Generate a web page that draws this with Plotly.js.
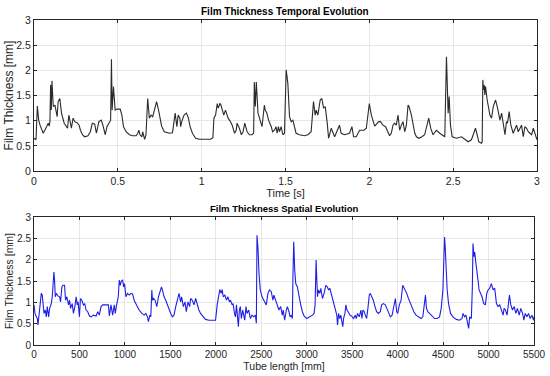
<!DOCTYPE html>
<html><head><meta charset="utf-8">
<script src="https://cdn.plot.ly/plotly-3.0.1.min.js"></script>
<style>html,body{margin:0;padding:0;background:#fff}#chart{width:550px;height:376px}</style>
</head><body><div id="chart"></div>
<script>
// Top panel: time [s] and film thickness [mm]
const timeS = [0.000,0.012,0.020,0.028,0.036,0.045,0.055,0.075,0.085,0.091,0.095,0.099,0.103,0.107,0.115,0.125,0.134,0.138,0.144,0.154,0.164,0.174,0.180,0.194,0.200,0.208,0.217,0.223,0.233,0.243,0.257,0.269,0.277,0.289,0.302,0.322,0.336,0.348,0.362,0.372,0.387,0.401,0.411,0.425,0.435,0.451,0.457,0.462,0.466,0.474,0.484,0.494,0.514,0.524,0.534,0.549,0.569,0.589,0.609,0.619,0.625,0.632,0.644,0.648,0.660,0.668,0.678,0.688,0.698,0.708,0.717,0.731,0.743,0.751,0.761,0.777,0.806,0.826,0.842,0.852,0.860,0.870,0.875,0.881,0.895,0.909,0.921,0.931,0.945,0.964,0.984,1.024,1.053,1.067,1.073,1.083,1.093,1.099,1.109,1.113,1.123,1.132,1.142,1.158,1.172,1.182,1.196,1.206,1.211,1.225,1.237,1.247,1.257,1.271,1.285,1.300,1.310,1.314,1.320,1.326,1.336,1.346,1.360,1.374,1.379,1.389,1.399,1.415,1.423,1.434,1.444,1.450,1.458,1.464,1.474,1.484,1.494,1.504,1.510,1.514,1.524,1.534,1.544,1.554,1.563,1.583,1.613,1.633,1.643,1.653,1.667,1.677,1.683,1.693,1.707,1.717,1.727,1.737,1.749,1.757,1.773,1.783,1.793,1.822,1.832,1.852,1.882,1.896,1.906,1.922,1.942,1.968,1.982,2.000,2.012,2.032,2.056,2.067,2.081,2.097,2.107,2.121,2.131,2.141,2.151,2.161,2.171,2.181,2.191,2.201,2.211,2.221,2.231,2.237,2.251,2.261,2.271,2.281,2.295,2.314,2.330,2.354,2.366,2.380,2.400,2.420,2.440,2.450,2.460,2.466,2.470,2.476,2.484,2.494,2.520,2.550,2.569,2.589,2.609,2.623,2.633,2.643,2.653,2.669,2.673,2.677,2.681,2.685,2.689,2.693,2.703,2.719,2.729,2.739,2.753,2.765,2.779,2.789,2.799,2.809,2.818,2.824,2.834,2.844,2.858,2.868,2.878,2.888,2.908,2.918,2.928,2.938,2.948,2.958,2.968,2.978,2.988,3.000];
const thickTime = [0.65,0.62,1.29,1.01,0.91,0.81,0.75,0.88,0.95,0.89,0.98,1.71,1.21,1.79,1.28,1.31,1.15,1.08,1.38,1.44,1.15,1.01,0.95,0.88,0.85,1.11,0.91,0.85,1.05,0.98,0.96,0.91,0.81,0.72,0.68,0.70,0.78,0.95,0.93,0.75,0.98,1.01,0.91,0.72,0.88,0.98,1.01,2.22,1.21,1.68,1.21,1.23,1.23,1.11,0.88,0.78,0.72,0.70,0.70,0.75,0.81,0.72,0.68,0.78,0.63,0.72,1.44,1.05,1.11,1.08,1.21,1.38,1.21,1.05,0.89,0.78,0.75,0.76,1.15,0.88,1.11,1.05,0.88,0.98,1.11,1.15,1.05,0.88,0.75,0.65,0.63,0.63,0.63,0.66,1.05,1.11,1.34,1.25,1.34,1.33,1.18,1.11,1.21,1.05,0.98,0.91,0.75,0.81,0.95,0.85,0.72,0.78,0.95,0.78,0.72,0.72,0.75,1.77,1.28,1.77,1.15,1.05,0.88,1.31,1.21,1.15,1.01,0.88,0.78,0.81,0.88,0.75,0.88,0.78,0.88,0.72,0.75,2.01,1.84,1.74,1.08,0.98,1.01,0.88,0.75,0.72,0.70,0.72,0.75,0.78,1.38,1.11,1.21,1.11,1.41,1.44,1.25,1.28,0.95,0.65,0.85,0.75,0.68,0.91,0.75,0.72,0.75,0.88,0.68,0.68,0.81,0.81,0.85,1.34,1.11,0.89,0.98,0.98,0.91,0.88,0.81,0.70,0.75,0.91,0.95,0.91,1.11,0.81,0.91,0.98,0.78,0.91,1.31,1.28,1.11,0.95,0.75,0.68,0.65,0.68,0.72,1.05,0.85,0.72,0.81,0.75,0.70,0.68,2.27,1.41,1.15,1.48,0.91,0.68,0.65,0.68,0.63,0.58,0.62,0.75,0.85,0.72,0.58,0.55,0.58,1.81,1.61,1.71,1.51,1.68,1.41,1.11,1.05,1.28,1.41,1.25,1.01,1.15,0.95,0.72,0.98,0.95,1.18,0.91,0.75,0.85,0.91,0.78,0.91,0.68,0.88,0.85,0.78,0.75,0.72,0.85,0.72,0.62];

// Bottom panel: tube length [mm] and film thickness [mm]
const tubeLen = [0,11,26,37,44,55,69,80,91,99,110,124,135,146,161,172,190,201,208,219,226,234,245,263,281,292,307,318,336,347,361,380,391,402,420,434,449,464,475,485,500,511,526,544,558,573,591,610,628,653,683,701,719,737,756,781,799,818,829,847,865,883,894,909,927,938,949,960,975,986,996,1011,1029,1048,1066,1084,1102,1128,1157,1186,1212,1230,1248,1259,1274,1285,1296,1303,1314,1332,1351,1369,1387,1402,1413,1431,1449,1467,1486,1504,1522,1540,1559,1577,1595,1613,1624,1643,1661,1675,1694,1712,1723,1741,1760,1778,1792,1814,1832,1858,1887,1924,1978,1997,2015,2033,2044,2059,2070,2081,2099,2117,2132,2150,2161,2179,2190,2205,2216,2227,2237,2248,2259,2270,2281,2296,2307,2318,2332,2343,2362,2380,2398,2416,2435,2446,2453,2464,2475,2489,2508,2533,2555,2573,2591,2610,2628,2639,2658,2676,2694,2713,2731,2742,2757,2776,2787,2805,2816,2831,2842,2849,2857,2868,2879,2897,2915,2934,2952,2971,3000,3037,3063,3081,3092,3103,3110,3118,3129,3144,3155,3173,3191,3210,3228,3240,3254,3272,3284,3302,3320,3331,3339,3350,3364,3375,3386,3397,3405,3420,3431,3442,3456,3475,3493,3515,3534,3545,3559,3578,3596,3607,3618,3633,3644,3659,3673,3688,3699,3714,3732,3751,3769,3787,3810,3824,3843,3865,3883,3902,3920,3939,3957,3975,3990,4001,4019,4038,4056,4067,4082,4100,4119,4137,4156,4178,4203,4229,4259,4277,4295,4306,4317,4332,4351,4369,4387,4406,4435,4461,4479,4498,4509,4516,4523,4534,4545,4560,4582,4608,4645,4682,4708,4719,4737,4752,4767,4781,4792,4811,4822,4829,4840,4848,4859,4873,4884,4896,4910,4928,4947,4965,4980,4995,5013,5031,5050,5068,5087,5105,5123,5142,5160,5171,5186,5204,5219,5230,5245,5263,5282,5300,5318,5337,5355,5374,5389,5403,5422,5440,5458,5477,5495,5500];
const thickSpace = [0.94,0.74,0.66,0.62,0.47,0.74,0.94,1.21,1.17,0.94,0.74,0.82,0.66,0.90,0.66,0.86,0.97,1.13,1.36,1.71,1.52,1.13,1.21,1.15,1.13,1.01,1.36,1.40,1.40,1.05,1.13,0.94,1.05,0.86,0.97,0.74,0.90,1.13,0.94,1.01,0.66,1.09,1.05,0.94,0.97,0.82,0.78,0.68,0.66,0.70,0.68,0.78,0.70,0.90,0.94,0.95,0.94,0.94,0.68,0.94,0.70,0.94,0.74,0.94,1.13,1.52,1.40,1.50,1.52,1.36,1.44,1.13,1.21,1.17,1.21,1.19,1.05,0.94,0.82,0.74,0.70,0.74,0.66,0.55,0.70,0.66,1.29,1.05,1.09,1.05,0.90,1.13,1.29,1.36,1.29,1.13,1.05,0.94,0.82,0.74,0.66,0.70,0.90,1.05,1.21,1.01,1.13,0.90,1.01,0.78,1.01,0.90,1.09,1.05,0.94,1.09,0.97,0.82,0.74,0.66,0.60,0.58,0.58,0.58,0.94,1.25,1.30,1.21,1.30,1.13,1.17,1.05,1.13,1.01,1.05,0.94,0.97,0.74,0.66,0.94,0.58,0.43,0.82,0.90,0.62,0.82,0.70,0.58,0.90,0.74,0.82,0.62,0.70,0.66,0.70,0.51,2.57,2.26,1.68,1.29,1.13,1.01,0.94,1.21,1.29,1.25,1.05,1.17,1.05,0.94,0.82,0.90,0.70,0.82,0.58,0.82,0.90,0.78,0.66,0.70,0.62,1.68,2.42,1.75,1.44,1.36,1.13,0.94,0.78,0.68,0.62,0.66,0.70,0.74,0.94,1.99,1.60,1.13,1.29,1.21,1.33,1.09,1.21,1.40,1.36,1.29,1.33,1.17,1.13,0.90,0.78,0.70,0.47,0.74,0.62,0.70,0.55,0.43,0.62,0.74,0.94,0.82,0.78,0.70,0.68,0.62,0.70,0.62,0.74,0.66,0.82,0.62,0.82,0.78,0.70,0.62,0.86,1.17,1.21,1.13,1.05,0.90,0.78,0.74,0.78,0.94,0.97,0.94,0.86,0.74,0.66,0.70,0.90,1.09,0.78,0.74,0.94,1.05,1.40,1.36,1.29,1.21,1.09,1.01,0.90,0.78,0.70,0.66,0.62,0.66,0.97,1.17,0.86,0.78,0.74,0.70,0.66,0.62,0.62,0.66,0.86,1.29,2.07,2.53,2.30,1.75,1.29,0.97,0.74,0.66,0.60,0.58,0.62,0.74,0.66,0.70,0.51,0.39,0.66,0.62,1.36,2.38,2.07,2.18,1.95,1.75,1.52,1.29,1.21,1.13,0.97,0.94,1.21,1.29,1.33,1.44,1.29,1.33,0.97,0.90,0.94,0.82,0.70,0.86,0.82,0.70,0.97,1.17,0.94,0.82,0.90,0.74,0.86,0.70,0.86,0.74,0.58,0.74,0.66,0.74,0.62,0.70,0.58,0.66];

const yTicks = [0,0.5,1,1.5,2,2.5,3];
const yTickText = ['0','0.5','1','1.5','2','2.5','3'];
const timeTicks = [0,0.5,1,1.5,2,2.5,3];
const timeTickText = ['0','0.5','1','1.5','2','2.5','3'];
const lenTicks = [0,500,1000,1500,2000,2500,3000,3500,4000,4500,5000,5500];

const FONT = 'Liberation Sans, Arial, sans-serif';
const axCommon = {
  showline:true, mirror:'ticks', linecolor:'#262626', linewidth:1,
  ticks:'inside', ticklen:3, tickcolor:'#262626',
  showgrid:true, gridcolor:'#e6e6e6', gridwidth:1,
  zeroline:false, tickfont:{family:FONT, size:10.5, color:'#262626'},
  automargin:false
};

const data = [
  {x: timeS, y: thickTime, type:'scatter', mode:'lines', line:{color:'#2b2b2b', width:1.1}, xaxis:'x', yaxis:'y', hoverinfo:'skip'},
  {x: tubeLen, y: thickSpace, type:'scatter', mode:'lines', line:{color:'#1f1fe6', width:1.1}, xaxis:'x2', yaxis:'y2', hoverinfo:'skip'}
];

const layout = {
  width:550, height:376,
  margin:{l:0,r:0,t:0,b:0},
  paper_bgcolor:'#ffffff', plot_bgcolor:'#ffffff',
  showlegend:false,
  xaxis: Object.assign({}, axCommon, {domain:[34/550, 537/550], range:[0,3], tickvals:timeTicks, ticktext:timeTickText, anchor:'y',
    title:{text:'Time [s]', font:{family:FONT, size:11, color:'#262626'}, standoff:1}}),
  yaxis: Object.assign({}, axCommon, {domain:[1-171/376, 1-20/376], range:[0,3], tickvals:yTicks, ticktext:yTickText, anchor:'x',
    title:{text:'Film Thickness [mm]', font:{family:FONT, size:12, color:'#262626'}, standoff:0}}),
  xaxis2: Object.assign({}, axCommon, {domain:[34/550, 534/550], range:[0,5500], tickvals:lenTicks, anchor:'y2',
    tickfont:{family:FONT, size:10, color:'#262626'},
    title:{text:'Tube length [mm]', font:{family:FONT, size:10.5, color:'#262626'}, standoff:1}}),
  yaxis2: Object.assign({}, axCommon, {domain:[1-345/376, 1-217/376], range:[0,3], tickvals:yTicks, ticktext:yTickText, anchor:'x2',
    tickfont:{family:FONT, size:10, color:'#262626'},
    title:{text:'Film Thickness [mm]', font:{family:FONT, size:10.5, color:'#262626'}, standoff:1}}),
  annotations:[
    {text:'<b>Film Thickness Temporal Evolution</b>', xref:'paper', yref:'paper', x:285/550, y:1-11/376, xanchor:'center', yanchor:'middle', showarrow:false, font:{family:FONT, size:10, color:'#000'}},
    {text:'<b>Film Thickness Spatial Evolution</b>', xref:'paper', yref:'paper', x:284/550, y:1-208/376, xanchor:'center', yanchor:'middle', showarrow:false, font:{family:FONT, size:9.5, color:'#000'}}
  ]
};

Plotly.newPlot('chart', data, layout, {staticPlot:true, displayModeBar:false});
</script></body></html>
